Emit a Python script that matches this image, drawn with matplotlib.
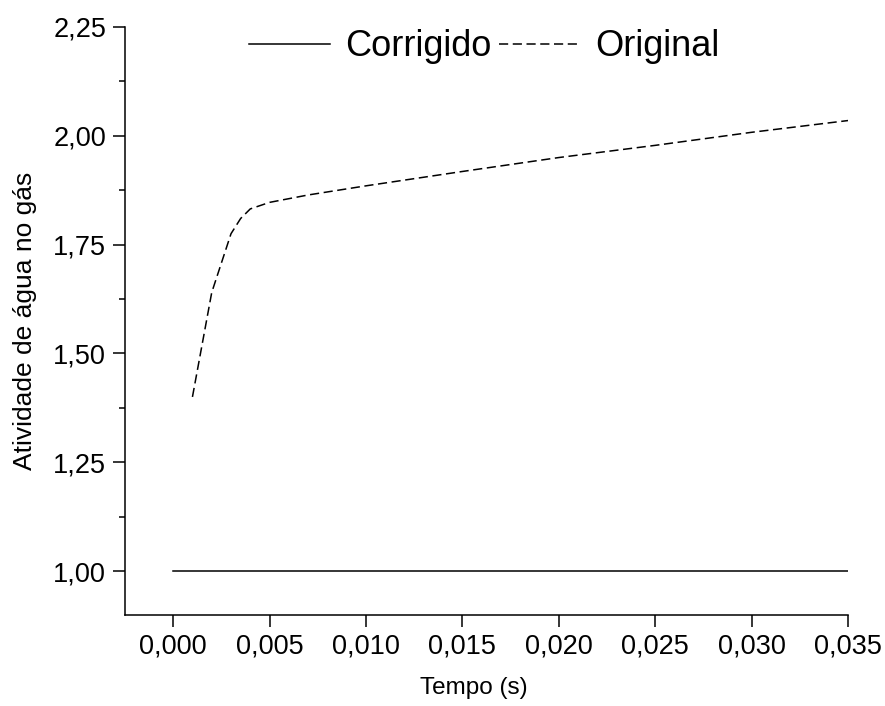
import matplotlib
matplotlib.use("Agg")
import matplotlib.pyplot as plt
from matplotlib.ticker import MultipleLocator

plt.rcParams['font.family'] = ['Liberation Sans', 'DejaVu Sans']

# Data
t_corr = [0.000, 0.035]
a_corr = [1.00, 1.00]

t_orig = [0.001, 0.002, 0.003, 0.0035, 0.004, 0.005, 0.007, 0.010, 0.015, 0.020, 0.025, 0.030, 0.035]
a_orig = [1.40, 1.64, 1.775, 1.810, 1.832, 1.847, 1.864, 1.885, 1.918, 1.950, 1.978, 2.008, 2.035]

xticks = [0.000, 0.005, 0.010, 0.015, 0.020, 0.025, 0.030, 0.035]
xticklabels = ["0,000", "0,005", "0,010", "0,015", "0,020", "0,025", "0,030", "0,035"]
yticks = [1.00, 1.25, 1.50, 1.75, 2.00, 2.25]
yticklabels = ["1,00", "1,25", "1,50", "1,75", "2,00", "2,25"]

fig = plt.figure(figsize=(8.85, 7.06), dpi=100)
ax = fig.add_axes([0.1412, 0.1289, 0.9582 - 0.1412, 0.9618 - 0.1289])

ax.plot(t_corr, a_corr, color='black', lw=1.1, ls='-', label='Corrigido')
ax.plot(t_orig, a_orig, color='black', lw=1.1, ls=(0, (6, 3)), label='Original')

ax.set_xlim(-0.0025, 0.035)
ax.set_ylim(0.899, 2.25)

ax.set_xticks(xticks)
ax.set_xticklabels(xticklabels)
ax.set_yticks(yticks)
ax.set_yticklabels(yticklabels)
ax.yaxis.set_minor_locator(MultipleLocator(0.125))

for s in ['top', 'right']:
    ax.spines[s].set_visible(False)
for s in ['left', 'bottom']:
    ax.spines[s].set_linewidth(1.1)

ax.tick_params(axis='both', which='major', direction='out', length=8.5, width=1.1,
               labelsize=19.5, pad=5)
ax.tick_params(axis='y', which='minor', direction='out', length=4.5, width=1.1)

ax.set_xlabel('Tempo (s)', fontsize=17.5)
ax.xaxis.set_label_coords(0.483, -0.105)
ax.set_ylabel('Atividade de água no gás', fontsize=19, labelpad=12)

leg = ax.legend(loc='center', bbox_to_anchor=(0.4965, 0.966), ncol=2, frameon=False,
                fontsize=26, handlelength=2.25, handletextpad=0.42, columnspacing=0.2,
                borderpad=0, borderaxespad=0)

fig.savefig('out.png', dpi=100)
